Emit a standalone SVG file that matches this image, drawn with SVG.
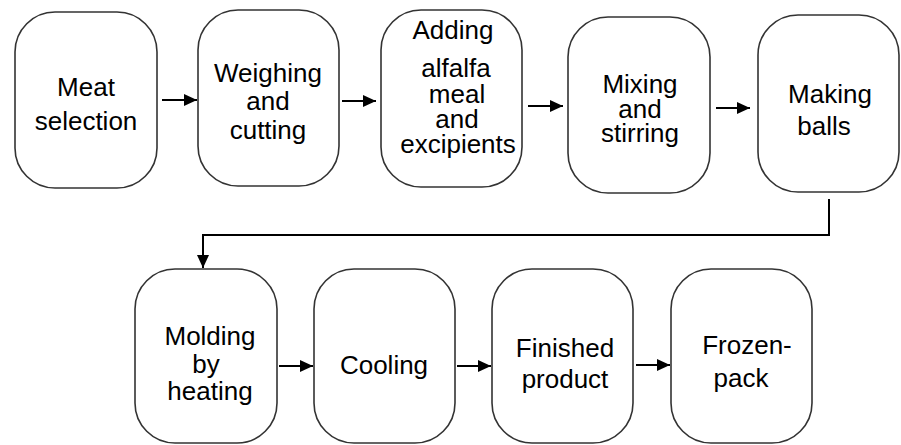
<svg xmlns="http://www.w3.org/2000/svg" width="901" height="445" viewBox="0 0 901 445">
<defs>
<style>
.box{fill:#fff;stroke:#333;stroke-width:1.6}
.t{font-family:"Liberation Sans",Arial,sans-serif;font-size:26px;fill:#000;text-anchor:middle}
.c{fill:none;stroke:#000;stroke-width:2}
</style>
<marker id="ah" markerUnits="userSpaceOnUse" markerWidth="14" markerHeight="14" viewBox="0 0 14 14" refX="13" refY="7" orient="auto">
<path d="M0,1 L13,7 L0,13 Z" fill="#000"/>
</marker>
</defs>
<rect width="901" height="445" fill="#fff"/>
<g id="n1"><rect class="box" x="15" y="12" width="142" height="176" rx="40"/>
<text class="t" x="86" y="96">Meat</text><text class="t" x="86" y="130">selection</text></g>
<g id="n2"><rect class="box" x="198" y="10" width="141" height="176" rx="40"/>
<text class="t" x="268" y="82">Weighing</text><text class="t" x="268" y="110">and</text><text class="t" x="268" y="139">cutting</text></g>
<g id="n3"><rect class="box" x="381" y="10" width="141" height="177" rx="40"/>
<text class="t" x="453" y="39">Adding</text><text class="t" x="456" y="77">alfalfa</text><text class="t" x="457" y="103">meal</text><text class="t" x="457" y="128">and</text><text class="t" x="458" y="153">excipients</text></g>
<g id="n4"><rect class="box" x="568" y="17" width="142" height="176" rx="40"/>
<text class="t" x="640" y="93">Mixing</text><text class="t" x="640" y="118">and</text><text class="t" x="640" y="142">stirring</text></g>
<g id="n5"><rect class="box" x="758" y="15" width="141" height="177" rx="40"/>
<text class="t" x="830" y="103">Making</text><text class="t" x="824" y="135">balls</text></g>
<g id="n6"><rect class="box" x="135" y="269" width="142" height="174" rx="40"/>
<text class="t" x="210" y="345">Molding</text><text class="t" x="206" y="373">by</text><text class="t" x="210" y="400">heating</text></g>
<g id="n7"><rect class="box" x="314" y="269" width="141" height="174" rx="40"/>
<text class="t" x="384" y="374">Cooling</text></g>
<g id="n8"><rect class="box" x="492" y="269" width="141" height="174" rx="40"/>
<text class="t" x="565" y="357">Finished</text><text class="t" x="565" y="388">product</text></g>
<g id="n9"><rect class="box" x="671" y="269" width="141" height="174" rx="40"/>
<text class="t" x="747" y="354">Frozen-</text><text class="t" x="741" y="387">pack</text></g>
<g id="connectors">
<path class="c" d="M162,100 H197" marker-end="url(#ah)"/>
<path class="c" d="M342,101 H376" marker-end="url(#ah)"/>
<path class="c" d="M528,106 H563" marker-end="url(#ah)"/>
<path class="c" d="M716,108 H750" marker-end="url(#ah)"/>
<path class="c" d="M829,199 V235 H203 V268" marker-end="url(#ah)"/>
<path class="c" d="M279,366 H313" marker-end="url(#ah)"/>
<path class="c" d="M457,366 H491" marker-end="url(#ah)"/>
<path class="c" d="M636,365 H670" marker-end="url(#ah)"/>
</g>
</svg>
